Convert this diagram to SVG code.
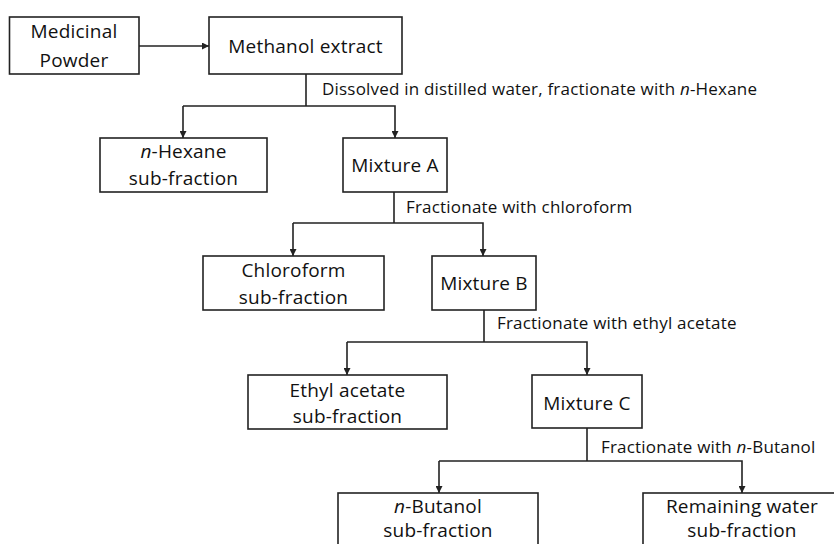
<svg xmlns="http://www.w3.org/2000/svg" width="834" height="544" viewBox="0 0 834 544">
<style>
.box{fill:#fff;stroke:#222;stroke-width:1.6}
.t{font-family:"Open Sans","Liberation Sans",sans-serif;font-size:19px;letter-spacing:0.2px;fill:#111;text-anchor:middle}
.l{font-family:"Open Sans","Liberation Sans",sans-serif;font-size:17px;letter-spacing:0.2px;fill:#111}
.c{fill:none;stroke:#222;stroke-width:1.6}
</style>
<defs>
<marker id="ah" viewBox="0 0 10 10" refX="10" refY="5" markerWidth="7" markerHeight="7" markerUnits="userSpaceOnUse" orient="auto">
<path d="M0,0 L10,5 L0,10 z" fill="#222"/>
</marker>
</defs>
<rect width="834" height="544" fill="#fff"/>
<g id="connectors">
<line class="c" x1="139" y1="46" x2="209" y2="46" marker-end="url(#ah)"/>
<polyline class="c" points="306,74 306,106"/>
<polyline class="c" points="183,106 395,106 395,138" marker-end="url(#ah)"/>
<line class="c" x1="183" y1="106" x2="183" y2="138" marker-end="url(#ah)"/>
<polyline class="c" points="394,192 394,223"/>
<polyline class="c" points="293,223 483,223 483,256" marker-end="url(#ah)"/>
<line class="c" x1="293" y1="223" x2="293" y2="256" marker-end="url(#ah)"/>
<polyline class="c" points="484,310 484,342"/>
<polyline class="c" points="347,342 587,342 587,375" marker-end="url(#ah)"/>
<line class="c" x1="347" y1="342" x2="347" y2="375" marker-end="url(#ah)"/>
<polyline class="c" points="587,428 587,461"/>
<polyline class="c" points="439,461 742,461 742,493" marker-end="url(#ah)"/>
<line class="c" x1="439" y1="461" x2="439" y2="493" marker-end="url(#ah)"/>
<text class="l" x="322" y="95">Dissolved in distilled water, fractionate with <tspan font-style="italic">n</tspan>-Hexane</text>
<text class="l" x="406" y="213">Fractionate with chloroform</text>
<text class="l" x="497" y="329">Fractionate with ethyl acetate</text>
<text class="l" x="601" y="453">Fractionate with <tspan font-style="italic">n</tspan>-Butanol</text>
</g>
<g id="medicinal-powder">
<rect class="box" x="9.5" y="17" width="129.5" height="57"/>
<text class="t" x="74" y="38">Medicinal</text>
<text class="t" x="74" y="67">Powder</text>
</g>
<g id="methanol-extract">
<rect class="box" x="209" y="17" width="193" height="57"/>
<text class="t" x="305.5" y="53">Methanol extract</text>
</g>
<g id="n-hexane">
<rect class="box" x="100" y="138" width="167" height="54"/>
<text class="t" x="183.5" y="158"><tspan font-style="italic">n</tspan>-Hexane</text>
<text class="t" x="183.5" y="185">sub-fraction</text>
</g>
<g id="mixture-a">
<rect class="box" x="343" y="138" width="104" height="54"/>
<text class="t" x="395" y="172">Mixture A</text>
</g>
<g id="chloroform">
<rect class="box" x="203" y="256" width="181" height="54"/>
<text class="t" x="293.5" y="277">Chloroform</text>
<text class="t" x="293.5" y="304">sub-fraction</text>
</g>
<g id="mixture-b">
<rect class="box" x="432" y="256" width="104" height="54"/>
<text class="t" x="484" y="290">Mixture B</text>
</g>
<g id="ethyl-acetate">
<rect class="box" x="248" y="375" width="199" height="54"/>
<text class="t" x="347.5" y="397">Ethyl acetate</text>
<text class="t" x="347.5" y="423">sub-fraction</text>
</g>
<g id="mixture-c">
<rect class="box" x="532" y="375" width="110" height="53"/>
<text class="t" x="587" y="410">Mixture C</text>
</g>
<g id="n-butanol">
<rect class="box" x="338" y="493" width="200" height="60"/>
<text class="t" x="438" y="513"><tspan font-style="italic">n</tspan>-Butanol</text>
<text class="t" x="438" y="537">sub-fraction</text>
</g>
<g id="remaining-water">
<rect class="box" x="643" y="493" width="198" height="60"/>
<text class="t" x="742" y="513">Remaining water</text>
<text class="t" x="742" y="537">sub-fraction</text>
</g>
</svg>
